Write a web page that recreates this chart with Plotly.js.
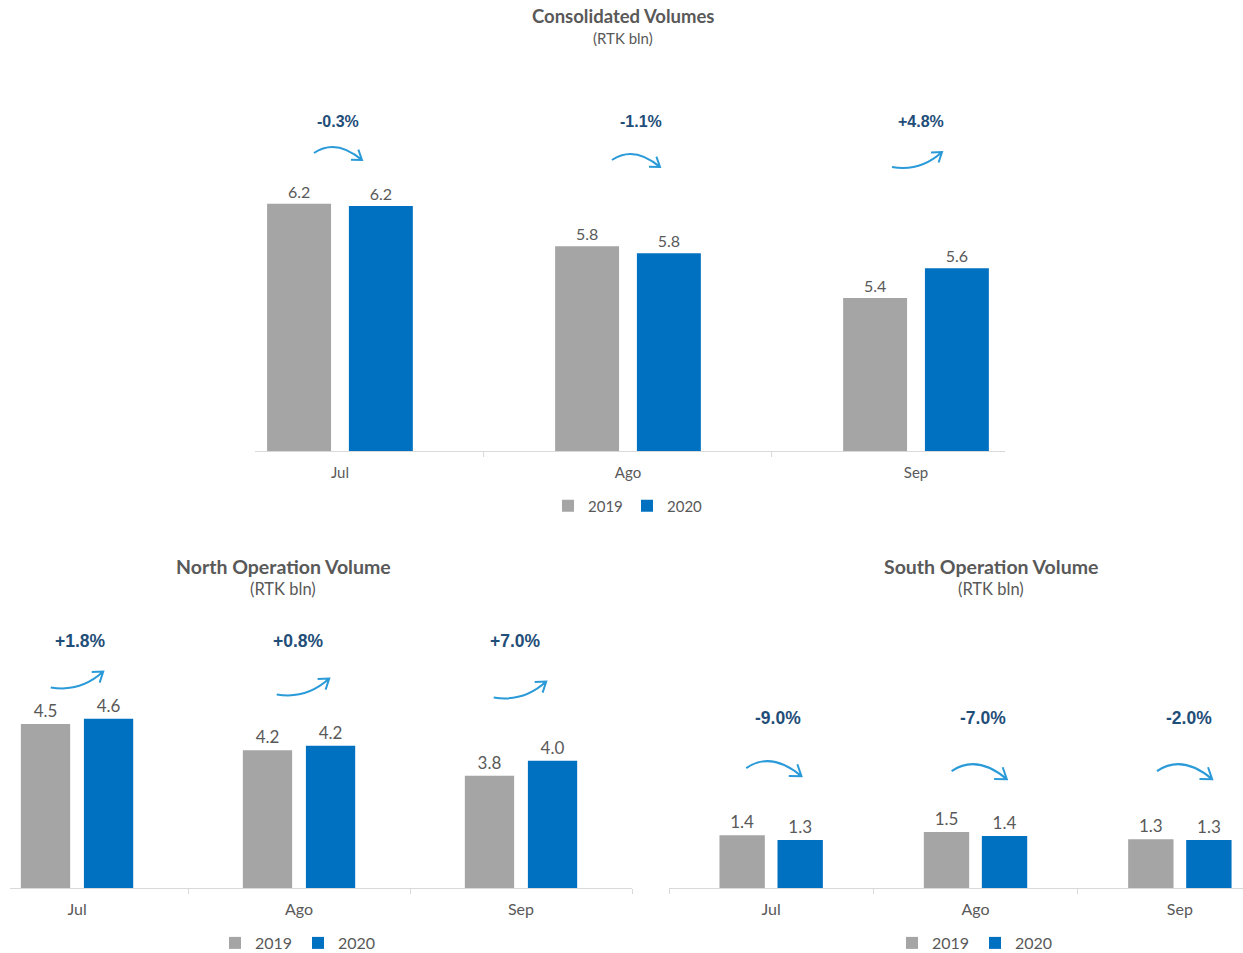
<!DOCTYPE html>
<html>
<head>
<meta charset="utf-8">
<script src="https://cdn.plot.ly/plotly-3.0.1.min.js"></script>
<style>html,body{margin:0;padding:0;background:#fff;}#chart{width:1243px;height:953px;}</style>
</head>
<body>
<div id="chart"></div>
<script>
// ---- data ----
const months = ['Jul', 'Ago', 'Sep'];
const seriesNames = ['2019', '2020'];
const consol2019 = [6.20, 5.83, 5.38];
const consol2020 = [6.18, 5.77, 5.64];
const consolPct = ['-0.3%', '-1.1%', '+4.8%'];
const north2019 = [4.53, 4.18, 3.84];
const north2020 = [4.60, 4.24, 4.04];
const northPct = ['+1.8%', '+0.8%', '+7.0%'];
const south2019 = [1.42, 1.50, 1.32];
const south2020 = [1.30, 1.40, 1.30];
const southPct = ['-9.0%', '-7.0%', '-2.0%'];

// ---- style ----
const W = 1243, H = 953;
const py = px => 1 - px / H;
const pxX = px => px / W;
const GRAY = '#A5A5A5', BLUE = '#0070C0', TXT = '#595959', PCT = '#1F4E79', ARROW = '#2A9AD8';
const FONT = 'Lato, "Open Sans", sans-serif';
const BOLDFONT = '"Liberation Sans", Arial, sans-serif';

function barPair(y19, y20, xa, ya, leg, fs) {
  const common = {
    type: 'bar', x: months, xaxis: xa, yaxis: ya, legend: leg,
    width: 0.222, texttemplate: '%{y:.1f}', textposition: 'outside',
    textfont: {family: FONT, size: fs, color: TXT}, hoverinfo: 'skip'
  };
  return [
    Object.assign({}, common, {y: y19, name: seriesNames[0], offset: -0.253, marker: {color: GRAY}}),
    Object.assign({}, common, {y: y20, name: seriesNames[1], offset: 0.031, marker: {color: BLUE}})
  ];
}

const data = [].concat(
  barPair(consol2019, consol2020, 'x', 'y', 'legend', 16),
  barPair(north2019, north2020, 'x2', 'y2', 'legend2', 17),
  barPair(south2019, south2020, 'x3', 'y3', 'legend3', 17)
);

function xax(domain, range, anchor, fs, standoff) {
  return {
    domain: domain, range: range, type: 'category', anchor: anchor, fixedrange: true,
    showline: true, linecolor: '#D9D9D9', linewidth: 1,
    ticks: 'outside', tickson: 'boundaries', ticklen: 5, tickcolor: '#D9D9D9',
    tickfont: {family: FONT, size: fs, color: TXT}, ticklabelstandoff: standoff,
    showgrid: false, zeroline: false
  };
}
function yax(domain, range, anchor) {
  return {domain: domain, range: range, anchor: anchor, visible: false, showgrid: false, zeroline: false, fixedrange: true};
}

const annotations = [];
const shapes = [];
function titleBlock(cx, ty, title, fs, fs2, gap) {
  annotations.push({xref: 'paper', yref: 'paper', x: pxX(cx), y: py(ty), text: '<b>' + title + '</b>',
    showarrow: false, xanchor: 'center', yanchor: 'middle', font: {family: FONT, size: fs, color: TXT}});
  annotations.push({xref: 'paper', yref: 'paper', x: pxX(cx), y: py(ty + gap), text: '(RTK bln)',
    showarrow: false, xanchor: 'center', yanchor: 'middle', font: {family: FONT, size: fs2, color: TXT}});
}
// arrow shapes in pixel units (x right, y up), relative to anchor
const downArrow = [['M', -26, -1], ['Q', -4, 14, 22, -8], ['M', 11, -7.8], ['L', 22, -8], ['L', 18.4, 2.4]];
const upArrow = [['M', -26, -7], ['Q', 2, -12, 24, 8], ['M', 13, 7.6], ['L', 24, 8], ['L', 20.6, -2.5]];
function arrowPath(cmds, s, dx) {
  return cmds.map(c => {
    const nums = c.slice(1);
    const out = [];
    for (let k = 0; k < nums.length; k += 2) out.push((nums[k] * s + dx).toFixed(1) + ',' + (nums[k + 1] * s).toFixed(1));
    return c[0] + ' ' + out.join(' ');
  }).join(' ');
}
function pctBlock(xref, pcts, labelY, labelDx, arrowDx, arrowY, fs, s) {
  pcts.forEach((p, i) => {
    annotations.push({xref: xref, yref: 'paper', x: months[i], y: py(labelY), text: '<b>' + p + '</b>',
      showarrow: false, xanchor: 'center', yanchor: 'middle', xshift: labelDx[i],
      font: {family: BOLDFONT, size: fs, color: PCT}});
    shapes.push({type: 'path', xref: xref, yref: 'paper', xsizemode: 'pixel', ysizemode: 'pixel',
      xanchor: months[i], yanchor: py(arrowY[i]),
      path: arrowPath(p.charAt(0) === '-' ? downArrow : upArrow, s, arrowDx[i]),
      line: {color: ARROW, width: 2}});
  });
}

titleBlock(623, 16, 'Consolidated Volumes', 18.5, 15, 22);
titleBlock(283, 566, 'North Operation Volume', 19.5, 16.5, 23);
titleBlock(991, 566, 'South Operation Volume', 19.5, 16.5, 23);
pctBlock('x', consolPct, 122, [-2, 13, 5], [0, 10, 2], [152, 159, 160], 16, 1.0);
pctBlock('x2', northPct, 641, [3, -1, -6], [1, 5, 0], [680, 687, 690], 17.5, 1.05);
pctBlock('x3', southPct, 718, [7, 7, 9], [5, 6, 7], [767, 770, 770], 17.5, 1.15);

function legendAt(cx, cy, fs, ew) {
  return {orientation: 'h', x: pxX(cx), y: py(cy), xanchor: 'center', yanchor: 'middle',
    font: {family: FONT, size: fs, color: TXT}, bgcolor: 'rgba(0,0,0,0)',
    itemwidth: 30, entrywidth: ew, itemclick: false, itemdoubleclick: false};
}

const layout = {
  width: W, height: H, margin: {l: 0, r: 0, t: 0, b: 0, autoexpand: false},
  paper_bgcolor: '#fff', plot_bgcolor: '#fff', barmode: 'overlay',
  font: {family: FONT, color: TXT},
  xaxis: xax([pxX(255), pxX(1005)], [-0.295, 2.309], 'y', 15, 8),
  yaxis: yax([py(451), py(60)], [4.05, 7.45], 'x'),
  xaxis2: xax([pxX(10), pxX(632)], [-0.302, 2.5], 'y2', 16, 7),
  yaxis2: yax([py(888), py(610)], [2.343, 6.05], 'x2'),
  xaxis3: xax([pxX(669), 1], [-0.5, 2.309], 'y3', 16, 7),
  yaxis3: yax([py(888), py(610)], [0.1, 7.05], 'x3'),
  legend: legendAt(627, 506, 15, 34),
  legend2: legendAt(298, 943, 16, 38),
  legend3: legendAt(975, 943, 16, 38),
  annotations: annotations,
  shapes: shapes,
  showlegend: true
};

Plotly.newPlot('chart', data, layout, {displayModeBar: false, staticPlot: true});
</script>
</body>
</html>
